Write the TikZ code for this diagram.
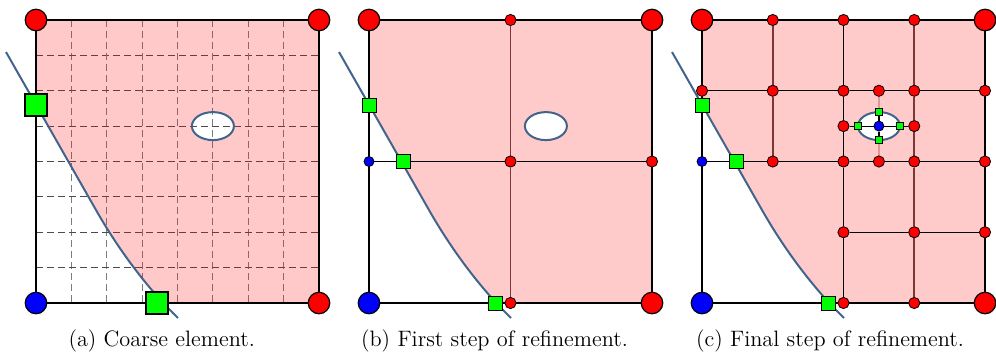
\documentclass[tikz,border=0pt]{standalone}
\pgfdeclarelayer{bg}
\pgfdeclarelayer{mid}
\pgfsetlayers{bg,mid,main}
\definecolor{pinkfill}{RGB}{255,202,202}
\definecolor{curvecol}{RGB}{65,100,140}
\definecolor{brownline}{RGB}{125,55,55}
\definecolor{lightline}{RGB}{222,150,150}
\definecolor{gridhcol}{RGB}{75,75,75}
\definecolor{gridvcol}{RGB}{125,125,125}
\tikzset{
  bigred/.style={circle, draw=black, line width=0.6pt, fill=red, minimum size=10.75pt, inner sep=0pt},
  bigblue/.style={bigred, fill=blue},
  smred/.style={circle, draw=black, line width=0.4pt, fill=red, minimum size=5.6pt, inner sep=0pt},
  smblue/.style={smred, fill=blue, minimum size=5pt},
  biggreen/.style={rectangle, draw=black, line width=1pt, fill=green, minimum size=10.8pt, inner sep=0pt},
  smgreen/.style={rectangle, draw=black, line width=0.4pt, fill=green, minimum size=7pt, inner sep=0pt},
  tinygreen/.style={rectangle, draw=black, line width=0.3pt, fill=green, minimum size=3.6pt, inner sep=0pt},
  sqedge/.style={line width=1.2pt, black},
  hline/.style={line width=0.6pt, black},
  vline/.style={line width=0.9pt, brownline},
  lline/.style={line width=0.9pt, lightline},
  curvestyle/.style={line width=1pt, curvecol},
  ellline/.style={line width=1pt, curvecol},
  gridv/.style={line width=0.5pt, gridvcol, dash pattern=on 3.5pt off 2pt},
  gridh/.style={line width=0.5pt, gridhcol, dash pattern=on 3.5pt off 2pt},
  captext/.style={anchor=base, inner sep=0pt, font=\fontsize{11.15}{13}\selectfont}
}
\begin{document}
\begin{tikzpicture}[x=0.5pt,y=-0.5pt]
\useasboundingbox (0,0) rectangle (996,355);

% ---------------- Panel (a)
\begin{scope}[shift={(36,20)}]
  \node[bigred] (a-tl) at (0,0) {};
  \node[bigred] (a-tr) at (283,0) {};
  \node[bigred] (a-br) at (283,283) {};
  \node[bigblue] (a-bl) at (0,283) {};
  \node[biggreen] (a-gl) at (0,85) {};
  \node[biggreen] (a-gb) at (121,283) {};
  \begin{pgfonlayer}{bg}
    \foreach \i in {1,...,7} {
      \draw[gridv] (\i*35.375,0) -- (\i*35.375,283);
      \draw[gridh] (0,\i*35.375) -- (283,\i*35.375);
    }
    \begin{scope}
      \clip (-30,32) -- (60,190) .. controls (85,234) and (115,272) .. (142,298)
        -- (300,300) -- (300,-10) -- (-30,-10) -- cycle;
      \fill[red, opacity=0.21, even odd rule] (0,0) rectangle (283,283) (176.9,106.1) ellipse (21 and 14);
    \end{scope}
  \end{pgfonlayer}
  \begin{pgfonlayer}{mid}
    \draw[ellline] (176.9,106.1) ellipse (21 and 14);
    \draw[sqedge] (a-tl) -- (a-tr);
    \draw[sqedge] (a-tr) -- (a-br);
    \draw[sqedge] (a-br) -- (a-bl);
    \draw[sqedge] (a-bl) -- (a-tl);
    \draw[curvestyle] (-30,32) -- (60,190) .. controls (85,234) and (115,272) .. (142,298);
  \end{pgfonlayer}
\end{scope}

% ---------------- Panel (b)
\begin{scope}[shift={(369,20)}]
  \node[bigred] (b-tl) at (0,0) {};
  \node[bigred] (b-tr) at (283,0) {};
  \node[bigred] (b-br) at (283,283) {};
  \node[bigblue] (b-bl) at (0,283) {};
  \node[smred] (b-tm) at (141.5,0) {};
  \node[smred] (b-c) at (141.5,141.5) {};
  \node[smred] (b-rm) at (283,141.5) {};
  \node[smred] (b-bm) at (141.5,283) {};
  \node[smblue] (b-lm) at (0,141.5) {};
  \node[smgreen] (b-gl) at (0,85) {};
  \node[smgreen] (b-gm) at (34,141.5) {};
  \node[smgreen] (b-gb) at (126,283) {};
  \begin{pgfonlayer}{bg}
    \begin{scope}
      \clip (-30,32) -- (60,190) .. controls (85,234) and (115,272) .. (142,298)
        -- (300,300) -- (300,-10) -- (-30,-10) -- cycle;
      \fill[pinkfill] (0,0) rectangle (283,283);
    \end{scope}
  \end{pgfonlayer}
  \begin{pgfonlayer}{mid}
    \draw[ellline, fill=white] (176.9,106.1) ellipse (21 and 14);
    \draw[vline] (b-tm) -- (b-c);
    \draw[vline] (b-c) -- (b-bm);
    \draw[hline] (b-lm) -- (b-gm);
    \draw[hline] (b-gm) -- (b-c);
    \draw[hline] (b-c) -- (b-rm);
    \draw[sqedge] (b-tl) -- (b-tr);
    \draw[sqedge] (b-tr) -- (b-br);
    \draw[sqedge] (b-br) -- (b-bl);
    \draw[sqedge] (b-bl) -- (b-tl);
    \draw[curvestyle] (-30,32) -- (60,190) .. controls (85,234) and (115,272) .. (142,298);
  \end{pgfonlayer}
\end{scope}

% ---------------- Panel (c)
\begin{scope}[shift={(702,20)}]
  \node[bigred] (c-tl) at (0,0) {};
  \node[bigred] (c-tr) at (283,0) {};
  \node[bigred] (c-br) at (283,283) {};
  \node[bigblue] (c-bl) at (0,283) {};
  % top edge
  \node[smred] (c-t1) at (70.75,0) {};
  \node[smred] (c-t2) at (141.5,0) {};
  \node[smred] (c-t3) at (212.25,0) {};
  % row 1/4
  \node[smred] (c-a0) at (0,70.75) {};
  \node[smred] (c-a1) at (70.75,70.75) {};
  \node[smred] (c-a2) at (141.5,70.75) {};
  \node[smred] (c-ae) at (176.9,70.75) {};
  \node[smred] (c-a3) at (212.25,70.75) {};
  \node[smred] (c-a4) at (283,70.75) {};
  % row 3/8
  \node[smred] (c-m2) at (141.5,106.1) {};
  \node[tinygreen] (c-ml) at (155.9,106.1) {};
  \node[smblue] (c-me) at (176.9,106.1) {};
  \node[tinygreen] (c-mr) at (197.9,106.1) {};
  \node[smred] (c-m3) at (212.25,106.1) {};
  \node[tinygreen] (c-mt) at (176.9,92.1) {};
  \node[tinygreen] (c-mb) at (176.9,120.1) {};
  % row 1/2
  \node[smblue] (c-b0) at (0,141.5) {};
  \node[smgreen] (c-bg) at (34,141.5) {};
  \node[smred] (c-b1) at (70.75,141.5) {};
  \node[smred] (c-b2) at (141.5,141.5) {};
  \node[smred] (c-be) at (176.9,141.5) {};
  \node[smred] (c-b3) at (212.25,141.5) {};
  \node[smred] (c-b4) at (283,141.5) {};
  % row 3/4
  \node[smred] (c-d2) at (141.5,212.25) {};
  \node[smred] (c-d3) at (212.25,212.25) {};
  \node[smred] (c-d4) at (283,212.25) {};
  % bottom edge
  \node[smgreen] (c-gb) at (126,283) {};
  \node[smred] (c-u2) at (141.5,283) {};
  \node[smred] (c-u3) at (212.25,283) {};
  % left edge
  \node[smgreen] (c-gl) at (0,85) {};
  \begin{pgfonlayer}{bg}
    \begin{scope}
      \clip (-30,32) -- (60,190) .. controls (85,234) and (115,272) .. (142,298)
        -- (300,300) -- (300,-10) -- (-30,-10) -- cycle;
      \fill[pinkfill] (0,0) rectangle (283,283);
    \end{scope}
  \end{pgfonlayer}
  \begin{pgfonlayer}{mid}
    \draw[ellline, fill=white] (176.9,106.1) ellipse (21 and 14);
    % verticals
    \draw[vline] (c-t1) -- (c-a1);
    \draw[vline] (c-a1) -- (c-b1);
    \draw[hline] (c-t2) -- (c-a2);
    \draw[hline] (c-a2) -- (c-m2);
    \draw[hline] (c-m2) -- (c-b2);
    \draw[hline] (c-b2) -- (c-d2);
    \draw[hline] (c-d2) -- (c-u2);
    \draw[vline] (c-t3) -- (c-a3);
    \draw[vline] (c-a3) -- (c-m3);
    \draw[vline] (c-m3) -- (c-b3);
    \draw[vline] (c-b3) -- (c-d3);
    \draw[vline] (c-d3) -- (c-u3);
    \draw[lline] (c-ae) -- (c-mt);
    \draw[hline] (c-mt) -- (c-me);
    \draw[hline] (c-me) -- (c-mb);
    \draw[lline] (c-mb) -- (c-be);
    % horizontals
    \draw[hline] (c-a0) -- (c-a1);
    \draw[hline] (c-a1) -- (c-a2);
    \draw[hline] (c-a2) -- (c-ae);
    \draw[hline] (c-ae) -- (c-a3);
    \draw[hline] (c-a3) -- (c-a4);
    \draw[hline] (c-m2) -- (c-ml);
    \draw[hline] (c-ml) -- (c-me);
    \draw[hline] (c-me) -- (c-mr);
    \draw[hline] (c-mr) -- (c-m3);
    \draw[hline] (c-b0) -- (c-bg);
    \draw[hline] (c-bg) -- (c-b1);
    \draw[hline] (c-b1) -- (c-b2);
    \draw[hline] (c-b2) -- (c-be);
    \draw[hline] (c-be) -- (c-b3);
    \draw[hline] (c-b3) -- (c-b4);
    \draw[hline] (c-d2) -- (c-d3);
    \draw[hline] (c-d3) -- (c-d4);
    % square
    \draw[sqedge] (c-tl) -- (c-tr);
    \draw[sqedge] (c-tr) -- (c-br);
    \draw[sqedge] (c-br) -- (c-bl);
    \draw[sqedge] (c-bl) -- (c-tl);
    \draw[curvestyle] (-30,32) -- (60,190) .. controls (85,234) and (115,272) .. (142,298);
  \end{pgfonlayer}
\end{scope}

% ---------------- Captions
\node[captext] (capa) at (161.7,346.5) {(a) Coarse element.};
\node[captext] (capb) at (494.5,346.5) {(b) First step of refinement.};
\node[captext] (capc) at (830,346.5) {(c) Final step of refinement.};
\end{tikzpicture}
\end{document}
